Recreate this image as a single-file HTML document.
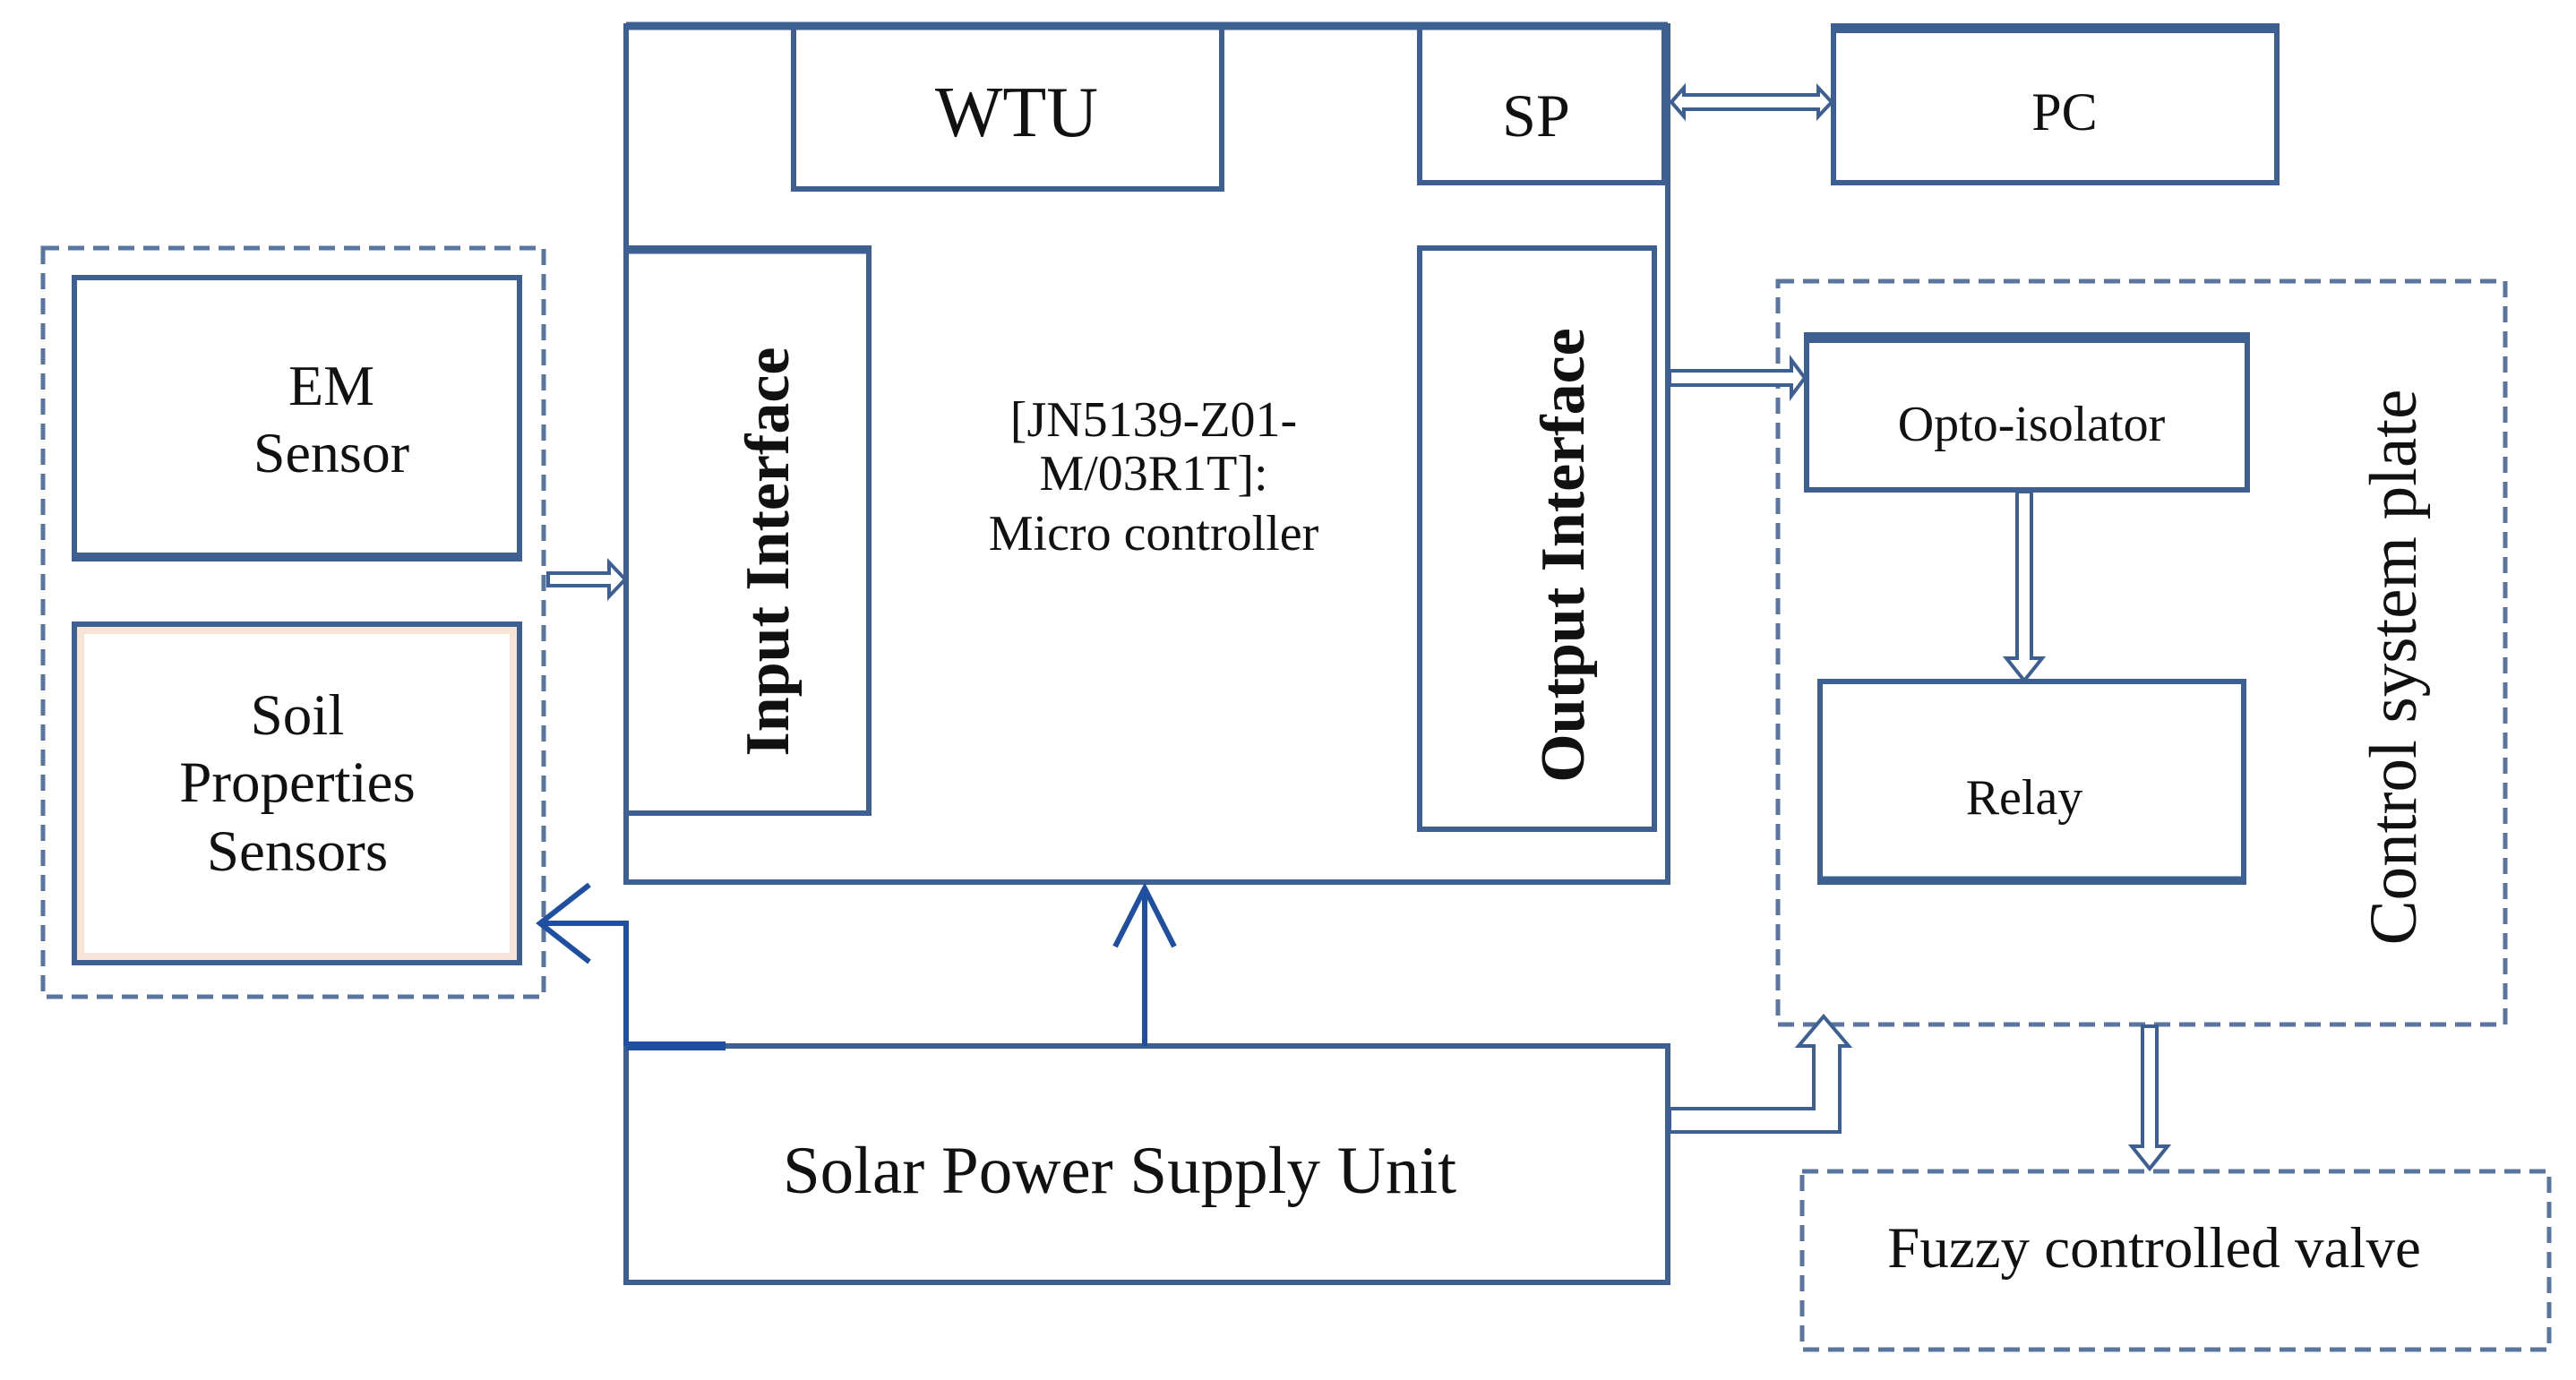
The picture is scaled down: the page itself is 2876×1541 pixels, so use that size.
<!DOCTYPE html>
<html><head><meta charset="utf-8"><style>
html,body{margin:0;padding:0;background:#fff;}
svg{display:block;}
text{font-family:"Liberation Serif",serif;fill:#111;}
</style></head><body>
<svg width="2876" height="1541" viewBox="0 0 2876 1541" xmlns="http://www.w3.org/2000/svg">
<g fill="none" stroke="#3d5f91" stroke-width="6">
  <rect x="699" y="29" width="1163" height="956"/>
  <line x1="699" y1="29" x2="1862" y2="29" stroke-width="9"/>
  <rect x="886" y="29" width="478" height="182"/>
  <rect x="1585" y="29" width="273" height="175"/>
  <rect x="2047" y="29" width="495" height="175"/>
  <line x1="2047" y1="32" x2="2542" y2="32" stroke-width="10"/>
  <rect x="699" y="277" width="271" height="631"/>
  <line x1="699" y1="279" x2="970" y2="279" stroke-width="9"/>
  <rect x="1585" y="277" width="262" height="649"/>
  <rect x="83" y="310" width="497" height="314"/>
  <line x1="83" y1="622" x2="580" y2="622" stroke-width="10"/>
  <rect x="83" y="697" width="497" height="378" />
  <rect x="90" y="704" width="483" height="364" stroke="#f8e4d6" stroke-width="8"/>
  <rect x="2017" y="374" width="492" height="173"/>
  <line x1="2017" y1="378" x2="2509" y2="378" stroke-width="10"/>
  <rect x="2032" y="761" width="473" height="224"/>
  <line x1="2032" y1="983" x2="2505" y2="983" stroke-width="9"/>
  <rect x="699" y="1168" width="1163" height="264"/>
  <g stroke-dasharray="18,10" stroke-width="5" stroke="#5a76a0">
    <rect x="48" y="277" width="559" height="836"/>
    <rect x="1985" y="314" width="812" height="830"/>
    <rect x="2012" y="1308" width="834" height="199"/>
  </g>
  <g stroke="#1f4fa0" stroke-width="6">
    <polyline points="699,1168 699,1031 603,1031"/>
    <polyline points="658,988 603,1031 658,1074"/>
    <line x1="699" y1="1168" x2="810" y2="1168" stroke-width="10"/>
    <line x1="1278" y1="1168" x2="1278" y2="992"/>
    <polyline points="1245,1057 1278,992 1311,1057"/>
  </g>
  <g stroke="#3d5f91" stroke-width="4">
    <polygon points="612,640 680,640 680,628 698,647 680,666 680,654 612,654" fill="#fff"/>
    <polygon points="1866,114 1880,98 1880,106 2030,106 2030,98 2045,114 2030,130 2030,122 1880,122 1880,130" fill="#fff"/>
    <polygon points="1864,414 2000,414 2000,402 2015,422 2000,442 2000,430 1864,430" fill="#fff"/>
    <polygon points="2252,549 2268,549 2268,735 2280,735 2260,760 2240,735 2252,735" fill="#fff"/>
    <polygon points="2392,1146 2408,1146 2408,1280 2420,1280 2400,1305 2380,1280 2392,1280" fill="#fff"/>
    <polygon points="1864,1238 2025,1238 2025,1168 2008,1168 2036,1135 2064,1168 2054,1168 2054,1264 1864,1264" fill="#fff"/>
  </g>
</g>
<g>
  <text x="1135" y="152" text-anchor="middle" font-size="80">WTU</text>
  <text x="1715" y="152" text-anchor="middle" font-size="68">SP</text>
  <text x="2305" y="145" text-anchor="middle" font-size="60">PC</text>
</g>
<g text-anchor="middle">
  <text x="370" y="452" font-size="64">EM</text>
  <text x="370" y="527" font-size="64">Sensor</text>
  <text x="332" y="820" font-size="65">Soil</text>
  <text x="332" y="895" font-size="65">Properties</text>
  <text x="332" y="972" font-size="65">Sensors</text>
  <text x="1288" y="487" font-size="56">[JN5139-Z01-</text>
  <text x="1288" y="547" font-size="56">M/03R1T]:</text>
  <text x="1288" y="614" font-size="56">Micro controller</text>
  <text x="2268" y="492" font-size="56">Opto-isolator</text>
  <text x="2260" y="909" font-size="56">Relay</text>
  <text x="1250" y="1332" font-size="75">Solar Power Supply Unit</text>
  <text x="2405" y="1415" font-size="65">Fuzzy controlled valve</text>
</g>
<g font-weight="bold" text-anchor="middle">
  <text transform="translate(880,616) rotate(-90)" font-size="70">Input  Interface</text>
  <text transform="translate(1768,620) rotate(-90)" font-size="70">Output  Interface</text>
  <text transform="translate(2697,745) rotate(-90)" font-size="75" font-weight="normal">Control system plate</text>
</g>
</svg>
</body></html>
